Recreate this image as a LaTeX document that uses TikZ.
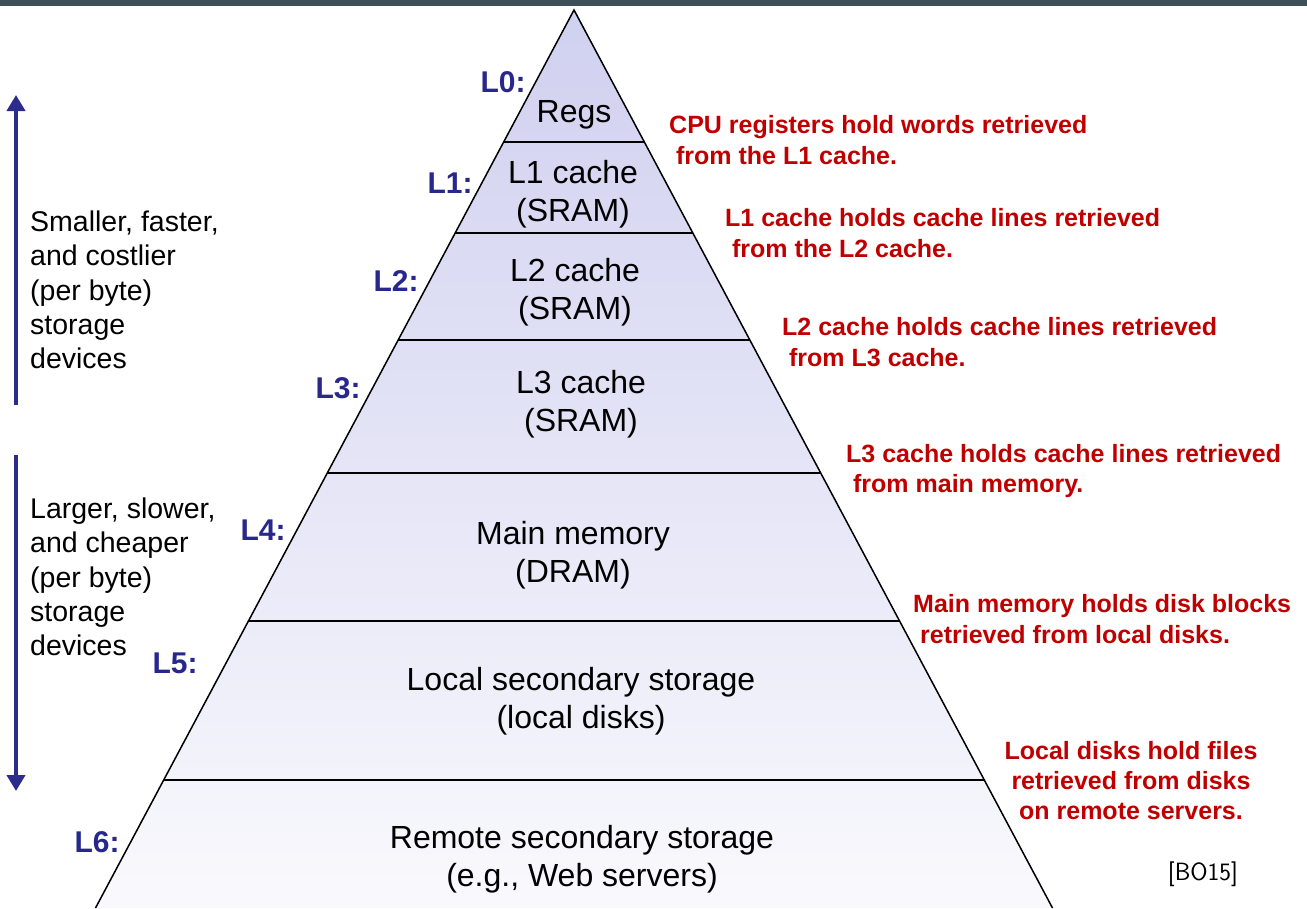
\documentclass[tikz,border=0pt]{standalone}
\usepackage{fontspec}
\setmainfont{Liberation Sans}
\usetikzlibrary{arrows.meta,calc}
\definecolor{lvlblue}{RGB}{40,40,140}
\definecolor{arrblue}{RGB}{44,44,140}
\definecolor{notered}{RGB}{192,0,0}
\definecolor{topbar}{RGB}{62,80,90}
\definecolor{pyrtop}{RGB}{208,208,240}
\definecolor{pyrbot}{RGB}{249,249,253}
\tikzset{
  lvl/.style={font=\fontsize{30}{36}\selectfont\bfseries, text=lvlblue, inner sep=0pt},
  layer/.style={font=\fontsize{32}{38.5}\selectfont, align=center, inner sep=0pt},
  note/.style={font=\fontsize{25}{30.5}\selectfont\bfseries, text=notered, align=left, inner sep=0pt, anchor=west},
  notec/.style={font=\fontsize{25}{30}\selectfont\bfseries, text=notered, align=center, inner sep=0pt},
  side/.style={font=\fontsize{28.5}{34.2}\selectfont, align=left, inner sep=0pt, anchor=west},
  bigarrow/.style={draw=arrblue, line width=4.5pt, -{Triangle[width=18pt,length=16pt]}},
  edge/.style={draw=black, line width=1.5pt},
}
\begin{document}
\begin{tikzpicture}[x=1pt,y=-1pt]
\useasboundingbox (0,0) rectangle (1307,908);
\fill[white] (0,0) rectangle (1307,908);
\fill[topbar] (0,0) rectangle (1307,6);
% pyramid
\coordinate (apex) at (574,10);
\coordinate (bl) at (95.5,908);
\coordinate (br) at (1052.5,908);
\shade[top color=pyrtop, bottom color=pyrbot] (apex) -- (bl) -- (br) -- cycle;
\foreach \t in {0.14699,0.24833,0.36748,0.51559,0.68040,0.85746}{
  \draw[edge] ($(apex)!\t!(bl)$) -- ($(apex)!\t!(br)$);
}
\draw[edge, line join=miter] (bl) -- (apex) -- (br);
% layer texts
\node[layer] (regs) at (574,115) {Regs};
\node[layer] (l1t) at (573,194) {L1 cache\\(SRAM)};
\node[layer] (l2t) at (575,292) {L2 cache\\(SRAM)};
\node[layer] (l3t) at (581,404) {L3 cache\\(SRAM)};
\node[layer] (l4t) at (573,555) {Main memory\\(DRAM)};
\node[layer] (l5t) at (581,701) {Local secondary storage\\(local disks)};
\node[layer] (l6t) at (582,859) {Remote secondary storage\\(e.g., Web servers)};
% level labels
\node[lvl] (L0) at (503,82) {L0:};
\node[lvl] (L1) at (450,183) {L1:};
\node[lvl] (L2) at (396,281) {L2:};
\node[lvl] (L3) at (338,388) {L3:};
\node[lvl] (L4) at (263,530) {L4:};
\node[lvl] (L5) at (175,663) {L5:};
\node[lvl] (L6) at (97,842) {L6:};
% notes
\node[note] (n0) at (669,140) {CPU registers hold words retrieved\\\ from the L1 cache.};
\node[note] (n1) at (725,233) {L1 cache holds cache lines retrieved\\\ from the L2 cache.};
\node[note] (n2) at (782,342) {L2 cache holds cache lines retrieved\\\ from L3 cache.};
\node[note] (n3) at (846,471) {L3 cache holds cache lines retrieved\\\ from main memory.};
\node[note] (n4) at (913,619) {Main memory holds disk blocks\\\ retrieved from local disks.};
\node[notec] (n5) at (1131,781) {Local disks hold files\\retrieved from disks\\on remote servers.};
% side texts and arrows
\node[side] (s1) at (30,290) {Smaller, faster,\\and costlier\\(per byte)\\storage\\devices};
\node[side] (s2) at (30,577) {Larger, slower,\\and cheaper\\(per byte)\\storage\\devices};
\coordinate (u0) at (16,405);
\coordinate (u1) at (16,95);
\coordinate (d0) at (16,455);
\coordinate (d1) at (16,791);
\draw[bigarrow] (u0) -- (u1);
\draw[bigarrow] (d0) -- (d1);
\node[font=\sffamily\fontsize{25}{30}\selectfont, inner sep=0pt] (cite) at (1203,874) {[BO15]};
\end{tikzpicture}
\end{document}
